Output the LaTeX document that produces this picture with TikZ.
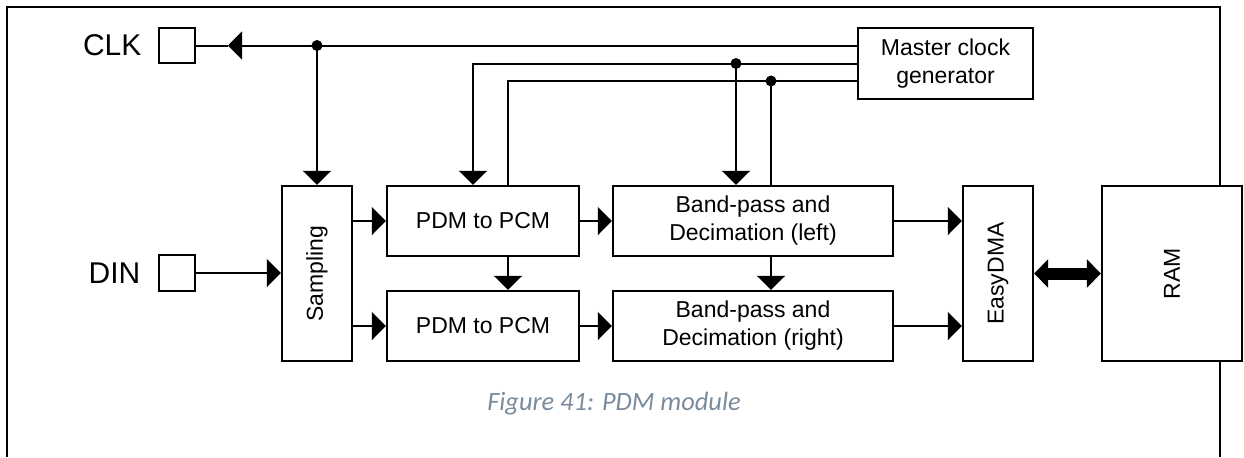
\documentclass[tikz,border=0pt]{standalone}
\usepackage{fontspec}
\setmainfont{Liberation Sans}
\newfontfamily\captionfont{Carlito}
\usepackage{graphicx}
\usetikzlibrary{arrows.meta,positioning}
\definecolor{captionGray}{RGB}{122,139,156}
\tikzset{
  >={Triangle[length=7pt,width=14pt]},
  block/.style={
    draw,
    line width=1.2pt,
    fill=white,
    inner sep=2pt,
    align=center,
    font=\fontsize{11.5}{14}\selectfont
  },
  pinbox/.style={
    draw,
    line width=1.2pt,
    minimum width=18pt,
    minimum height=18pt,
    inner sep=0pt
  },
  pinlabel/.style={
    inner sep=0pt,
    font=\fontsize{15}{18}\selectfont
  },
  wire/.style={line width=1pt},
  arrow/.style={wire, ->},
  busarrow/.style={
    line width=6pt,
    {Triangle[length=7pt,width=14pt]}-{Triangle[length=7pt,width=14pt]}
  },
  junction/.style={circle, fill, inner sep=0pt, minimum size=5.5pt},
  captiontext/.style={
    inner sep=0pt,
    font=\captionfont\itshape\fontsize{13.2}{16}\selectfont,
    text=captionGray
  }
}

\begin{document}
\begin{tikzpicture}[x=0.5pt,y=-0.5pt]
\useasboundingbox (0,0) rectangle (1244,457);

% module outline (open at the bottom)
\draw[wire] (7,457) -- (7,7) -- (1220,7) -- (1220,457);

% pins
\node[pinbox, minimum height=17.5pt] (clkpin) at (177,45.5) {};
\node[pinlabel, left=8pt of clkpin] (clklabel) {CLK};
\node[pinbox] (dinpin) at (177,273) {};
\node[pinlabel, left=8.5pt of dinpin] (dinlabel) {DIN};

% blocks
\node[block, minimum width=35pt, minimum height=87.5pt] (samp) at (317,273.5) {\rotatebox{90}{Sampling}};
\node[block, minimum width=96pt, minimum height=35pt] (pdmL) at (483,221) {PDM to PCM};
\node[block, minimum width=96pt, minimum height=35pt] (pdmR) at (483,326) {PDM to PCM};
\node[block, minimum width=140pt, minimum height=35pt] (bpL) at (753,221) {Band-pass and\\Decimation (left)};
\node[block, minimum width=140pt, minimum height=35pt] (bpR) at (753,326) {Band-pass and\\Decimation (right)};
\node[block, minimum width=35pt, minimum height=87.5pt] (dma) at (998,273.5) {\rotatebox{90}{EasyDMA}};
\node[block, minimum width=70pt, minimum height=87.5pt] (ram) at (1172,273.5) {\rotatebox{90}{RAM}};
\node[block, minimum width=87.5pt, minimum height=35.5pt] (mcg) at (945.5,63.5) {Master clock\\generator};

% clock distribution
\coordinate (clktap) at (317,45.5);
\coordinate (clktip) at (228,45.5);
\draw[wire] (mcg.west |- clktap) -- (clktap);
\draw[arrow] (clktap) -- (clktip);
\draw[wire] (clktip) -- (clkpin.east);
\draw[arrow] (clktap) -- (samp.north);
\node[junction] at (clktap) {};

\coordinate (pcmclk) at (736,63.5);
\draw[arrow] (mcg.west) -| ([xshift=-5pt]pdmL.north);
\draw[arrow] (pcmclk) -- (pcmclk |- bpL.north);
\node[junction] at (pcmclk) {};

\coordinate (fbclk) at (771,81);
\draw[wire] ([xshift=12.5pt]pdmL.north) |- (mcg.west |- fbclk);
\draw[wire] (fbclk) -- (fbclk |- bpL.north);
\node[junction] at (fbclk) {};

% data path
\draw[arrow] (dinpin.east) -- (samp.west |- dinpin);
\draw[arrow] (samp.east |- pdmL) -- (pdmL.west);
\draw[arrow] (samp.east |- pdmR) -- (pdmR.west);
\draw[arrow] ([xshift=12.5pt]pdmL.south) -- ([xshift=12.5pt]pdmR.north);
\draw[arrow] (pdmL.east) -- (bpL.west);
\draw[arrow] (pdmR.east) -- (bpR.west);
\draw[arrow] ([xshift=9pt]bpL.south) -- ([xshift=9pt]bpR.north);
\draw[arrow] (bpL.east) -- (dma.west |- bpL);
\draw[arrow] (bpR.east) -- (dma.west |- bpR);
\draw[busarrow] (dma.east) -- (ram.west |- dma.east);

\node[captiontext, anchor=base] (cap) at (614,410) {Figure 41: PDM module};

\end{tikzpicture}
\end{document}
